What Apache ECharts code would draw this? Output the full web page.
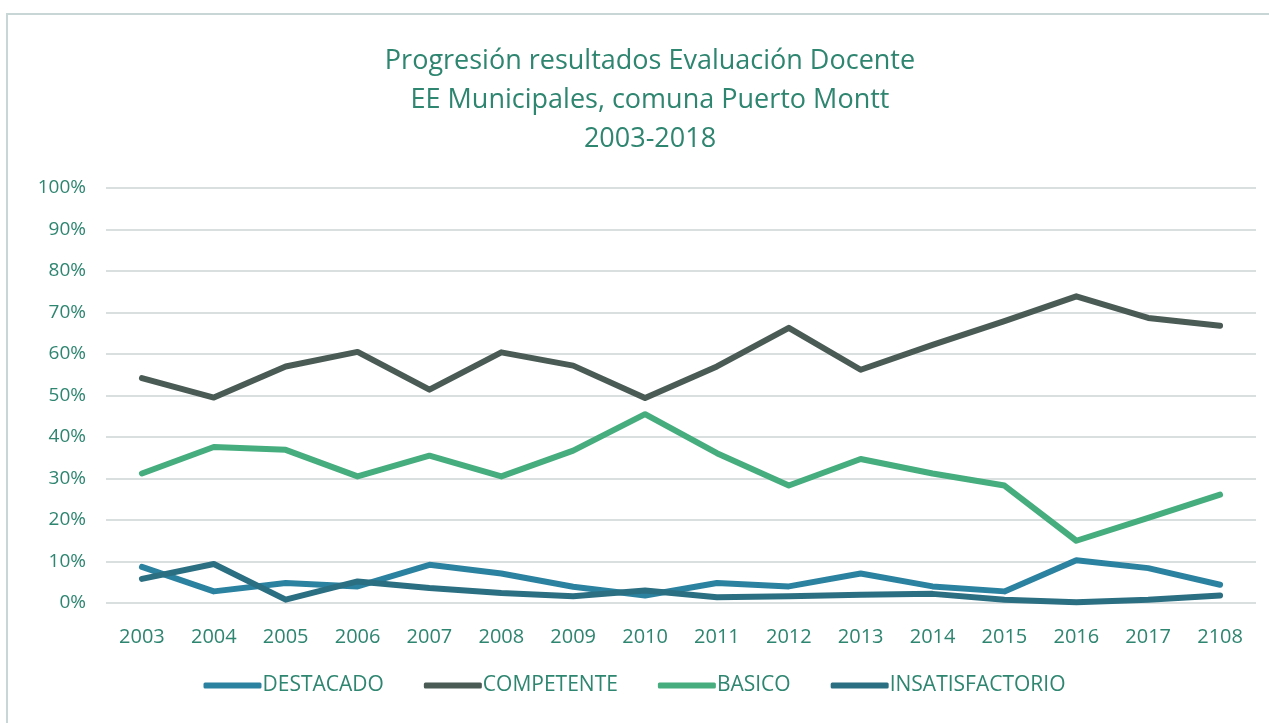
<!DOCTYPE html>
<html>
<head>
<meta charset="utf-8">
<script src="https://cdn.jsdelivr.net/npm/echarts@6/dist/echarts.min.js"></script>
<style>
  html, body { margin: 0; padding: 0; background: #fff; }
  #frame {
    position: absolute; left: 6px; top: 13px; width: 1263px; height: 710px;
    border-left: 2px solid #c9d6d6; border-top: 2px solid #c9d6d6;
    box-sizing: border-box;
  }
  #chart { position: absolute; left: 0; top: 0; width: 1269px; height: 723px; }
</style>
</head>
<body>
<div id="frame"></div>
<div id="chart"></div>
<script>
const years = ["2003", "2004", "2005", "2006", "2007", "2008", "2009", "2010",
  "2011", "2012", "2013", "2014", "2015", "2016", "2017", "2108"];

const destacado = [8.7, 2.8, 4.8, 4.0, 9.2, 7.1, 3.9, 1.8, 4.8, 4.0, 7.1, 4.0, 2.8, 10.3, 8.4, 4.4];
const competente = [54.2, 49.5, 57.0, 60.5, 51.4, 60.4, 57.2, 49.4, 57.0, 66.3, 56.2, 62.2, 67.9, 73.9, 68.7, 66.8];
const basico = [31.2, 37.6, 36.9, 30.5, 35.5, 30.5, 36.7, 45.5, 36.1, 28.3, 34.7, 31.2, 28.3, 15.0, 20.5, 26.1];
const insatisfactorio = [5.8, 9.4, 0.8, 5.2, 3.6, 2.4, 1.6, 3.0, 1.4, 1.6, 2.0, 2.2, 0.8, 0.2, 0.8, 1.8];

const textColor = "#2e8570";

function lineSeries(name, data, color) {
  return {
    name: name,
    type: "line",
    data: data,
    symbol: "none",
    color: color,
    lineStyle: { width: 6, color: color, cap: "round", join: "round" },
  };
}

const chart = echarts.init(document.getElementById("chart"));
chart.setOption({
  animation: false,
  title: {
    text: "Progresión resultados Evaluación Docente\nEE Municipales, comuna Puerto Montt\n2003-2018",
    left: 645,
    textAlign: "center",
    top: 37,
    textStyle: {
      fontFamily: "Open Sans",
      fontWeight: "normal",
      fontSize: 27,
      lineHeight: 39,
      color: textColor,
    },
  },
  legend: {
    bottom: 22,
    left: "center",
    icon: "roundRect",
    itemWidth: 58,
    itemHeight: 6,
    itemGap: 40,
    textStyle: {
      fontFamily: "Open Sans",
      fontSize: 21,
      color: textColor,
      padding: [0, 0, 0, -4],
    },
    data: ["DESTACADO", "COMPETENTE", "BASICO", "INSATISFACTORIO"],
  },
  grid: { left: 106, right: 13, top: 188, bottom: 120 },
  xAxis: {
    type: "category",
    data: years,
    boundaryGap: true,
    axisLine: { show: false },
    axisTick: { show: false },
    axisLabel: {
      margin: 24,
      fontFamily: "Open Sans",
      fontSize: 20,
      color: textColor,
    },
  },
  yAxis: {
    type: "value",
    min: 0,
    max: 100,
    interval: 10,
    axisLine: { show: false },
    axisTick: { show: false },
    splitLine: { lineStyle: { color: "#cdd3d3", width: 1.5 } },
    axisLabel: {
      margin: 20,
      fontFamily: "Open Sans",
      fontSize: 19,
      color: textColor,
      formatter: "{value}%",
    },
  },
  series: [
    lineSeries("DESTACADO", destacado, "#2b82a0"),
    lineSeries("COMPETENTE", competente, "#4a5b56"),
    lineSeries("BASICO", basico, "#45ad7e"),
    lineSeries("INSATISFACTORIO", insatisfactorio, "#2b6f82"),
  ],
});
</script>
</body>
</html>
